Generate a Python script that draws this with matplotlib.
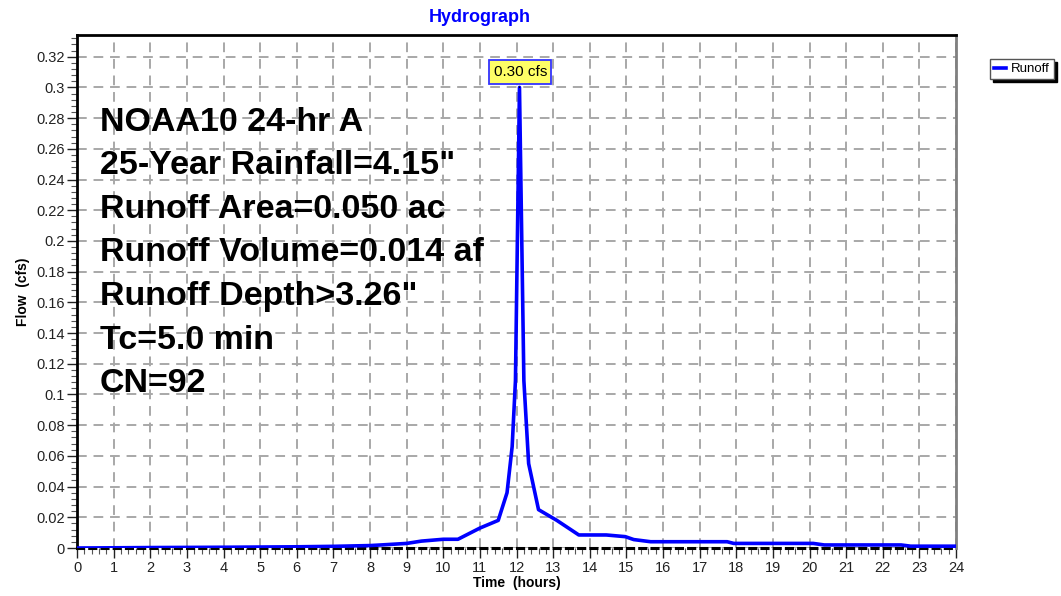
import numpy as np
import matplotlib.pyplot as plt
from matplotlib.ticker import MultipleLocator

plt.rcParams['font.family'] = ['Liberation Sans', 'DejaVu Sans']

# Runoff hydrograph (hours, cfs)
time_hr = [0.0, 2.0, 4.0, 6.0, 7.0, 8.0, 8.3, 9.0, 9.4, 10.0, 10.4, 11.0, 11.5,
           11.74, 11.88, 11.97, 12.08, 12.2, 12.33, 12.6, 13.1, 13.7, 14.45,
           14.97, 15.2, 15.66, 17.75, 17.93, 20.1, 20.4, 22.5, 22.76, 24.0]
flow_cfs = [0.0, 0.0003, 0.0005, 0.0008, 0.0011, 0.0016, 0.002, 0.003, 0.0045,
            0.0057, 0.0057, 0.013, 0.018, 0.036, 0.066, 0.109, 0.30, 0.109,
            0.055, 0.025, 0.018, 0.0085, 0.0085, 0.0074, 0.0055, 0.0041,
            0.0041, 0.003, 0.003, 0.002, 0.002, 0.0012, 0.0012]

peak_t = 12.08
peak_q = 0.30

info_lines = ['NOAA10 24-hr A', '25-Year Rainfall=4.15"', 'Runoff Area=0.050 ac',
              'Runoff Volume=0.014 af', 'Runoff Depth>3.26"', 'Tc=5.0 min', 'CN=92']

fig = plt.figure(figsize=(10.61, 5.96), dpi=100)
ax = fig.add_axes([0.0726, 0.0805, 0.8285, 0.8605])

line, = ax.plot(time_hr, flow_cfs, color='#0000ff', lw=2.6, label='Runoff', zorder=3)

ax.set_xlim(0, 24)
ax.set_ylim(0, 0.334)
ax.xaxis.set_major_locator(MultipleLocator(1))
ax.xaxis.set_minor_locator(MultipleLocator(0.2))
ax.yaxis.set_major_locator(MultipleLocator(0.02))
ax.yaxis.set_minor_locator(MultipleLocator(0.004))
ax.yaxis.set_major_formatter(plt.FuncFormatter(lambda v, p: f'{v:g}' if v else '0'))
ax.tick_params(which='major', length=7, width=1, labelsize=10.5, colors='#222222', pad=2)
ax.tick_params(which='minor', length=4, width=0.8, colors='#555555')

ax.grid(True, which='major', color='#a8a8a8', ls=(0, (5, 3.5)), lw=1.4)

for s in ('left', 'top'):
    ax.spines[s].set_color('black')
    ax.spines[s].set_linewidth(2)
ax.spines['right'].set_color('#808080')
ax.spines['right'].set_linewidth(2)
ax.spines['bottom'].set_color('black')
ax.spines['bottom'].set_linewidth(2.2)
ax.spines['bottom'].set_linestyle((0, (2, 2)))

fig.text(480 / 1061, 1 - 17 / 596, 'Hydrograph', color='#0000ff', fontsize=13,
         fontweight='bold', ha='center', va='center')
ax.set_xlabel('Time  (hours)', fontsize=10, fontweight='bold', labelpad=1)
ax.set_ylabel('Flow  (cfs)', fontsize=10, fontweight='bold', labelpad=4)

# info block, one line every ~43.6 px
for i, txt in enumerate(info_lines):
    y_px = 122 + 43.6 * i
    ax.text(0.026, (548 - y_px) / 513, txt, transform=ax.transAxes,
            fontsize=24.5, fontweight='bold', va='center', ha='left')

ax.annotate(f'{peak_q:.2f} cfs', xy=(peak_t, peak_q), xytext=(peak_t + 0.02, 0.310),
            ha='center', va='center', fontsize=11,
            bbox=dict(boxstyle='square,pad=0.3', fc='#ffff66', ec='#3333ff', lw=1.3),
            arrowprops=dict(arrowstyle='-', color='black', lw=1), zorder=5)

fig.legend(handles=[line], loc='upper left', bbox_to_anchor=(0.927, 0.912),
           fontsize=9.5, frameon=True, fancybox=False, edgecolor='#555555',
           handlelength=0.9, handletextpad=0.4, borderpad=0.3,
           shadow={'color': 'black', 'alpha': 1})

fig.savefig('out.png', dpi=100)
